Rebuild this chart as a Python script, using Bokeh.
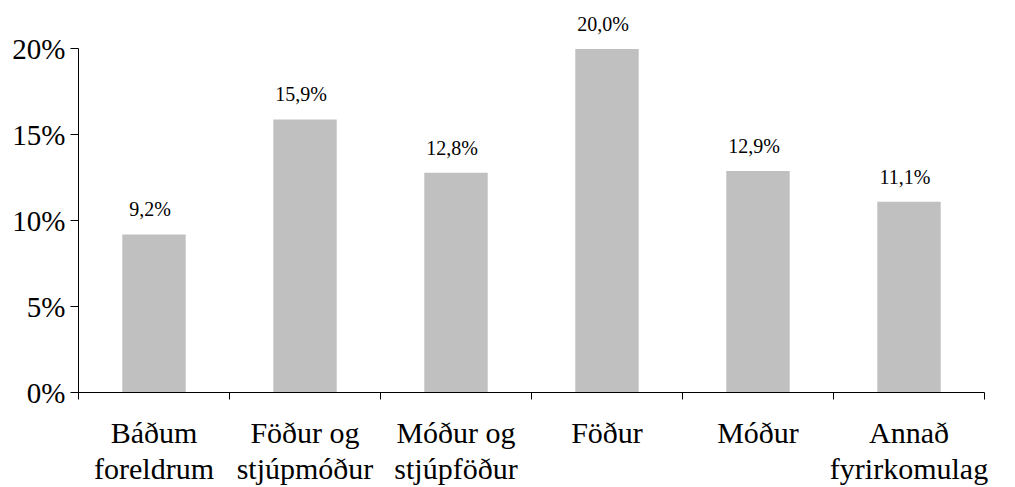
from bokeh.plotting import figure
from bokeh.models import ColumnDataSource, FixedTicker, LabelSet, Range1d
from bokeh.embed import file_html
from bokeh.resources import INLINE

categories = ["Báðum\nforeldrum", "Föður og\nstjúpmóður", "Móður og\nstjúpföður",
              "Föður", "Móður", "Annað\nfyrirkomulag"]
values = [9.2, 15.9, 12.8, 20.0, 12.9, 11.1]
y_ticks = [0, 5, 10, 15, 20]

FONT = "Liberation Serif"

xs = [i + 0.5 for i in range(len(categories))]
labels = [f"{v:.1f}".replace(".", ",") + "%" for v in values]
src = ColumnDataSource(dict(x=xs, top=values, label=labels))

p = figure(frame_width=906, frame_height=380, output_backend="svg", toolbar_location=None,
           x_range=Range1d(0, len(categories)), y_range=Range1d(0, 22.125),
           min_border_left=78, min_border_top=12, min_border_right=15, min_border_bottom=95)
p.outline_line_color = None
p.xgrid.visible = False
p.ygrid.visible = False

p.vbar(x="x", top="top", width=0.42, bottom=0, source=src, fill_color="#C0C0C0", line_color=None)

p.add_layout(LabelSet(x="x", y="top", text="label", source=src, text_align="center",
                      text_baseline="alphabetic", x_offset=-4, y_offset=18,
                      text_font=FONT, text_font_size="20px", text_color="black"))

xa = p.xaxis[0]
xa.ticker = FixedTicker(ticks=xs, minor_ticks=list(range(len(categories) + 1)))
xa.major_label_overrides = {x: c for x, c in zip(xs, categories)}
xa.major_tick_out = 0
xa.major_tick_in = 0
xa.minor_tick_out = 7
xa.minor_tick_in = 0
xa.bounds = (0, len(categories))
xa.axis_line_color = "black"
xa.minor_tick_line_color = "black"
xa.major_label_text_font = FONT
xa.major_label_text_font_size = "30px"
xa.major_label_text_line_height = 1.1
xa.major_label_text_color = "black"
xa.major_label_standoff = 16

ya = p.yaxis[0]
ya.ticker = FixedTicker(ticks=y_ticks, minor_ticks=[])
ya.major_label_overrides = {t: f"{t}%" for t in y_ticks}
ya.major_tick_out = 8
ya.major_tick_in = 0
ya.minor_tick_out = 0
ya.minor_tick_in = 0
ya.bounds = (0, 20)
ya.axis_line_color = "black"
ya.major_tick_line_color = "black"
ya.major_label_text_font = FONT
ya.major_label_text_font_size = "29px"
ya.major_label_text_color = "black"
ya.major_label_standoff = 5

open("out.html", "w").write(file_html(p, INLINE))
